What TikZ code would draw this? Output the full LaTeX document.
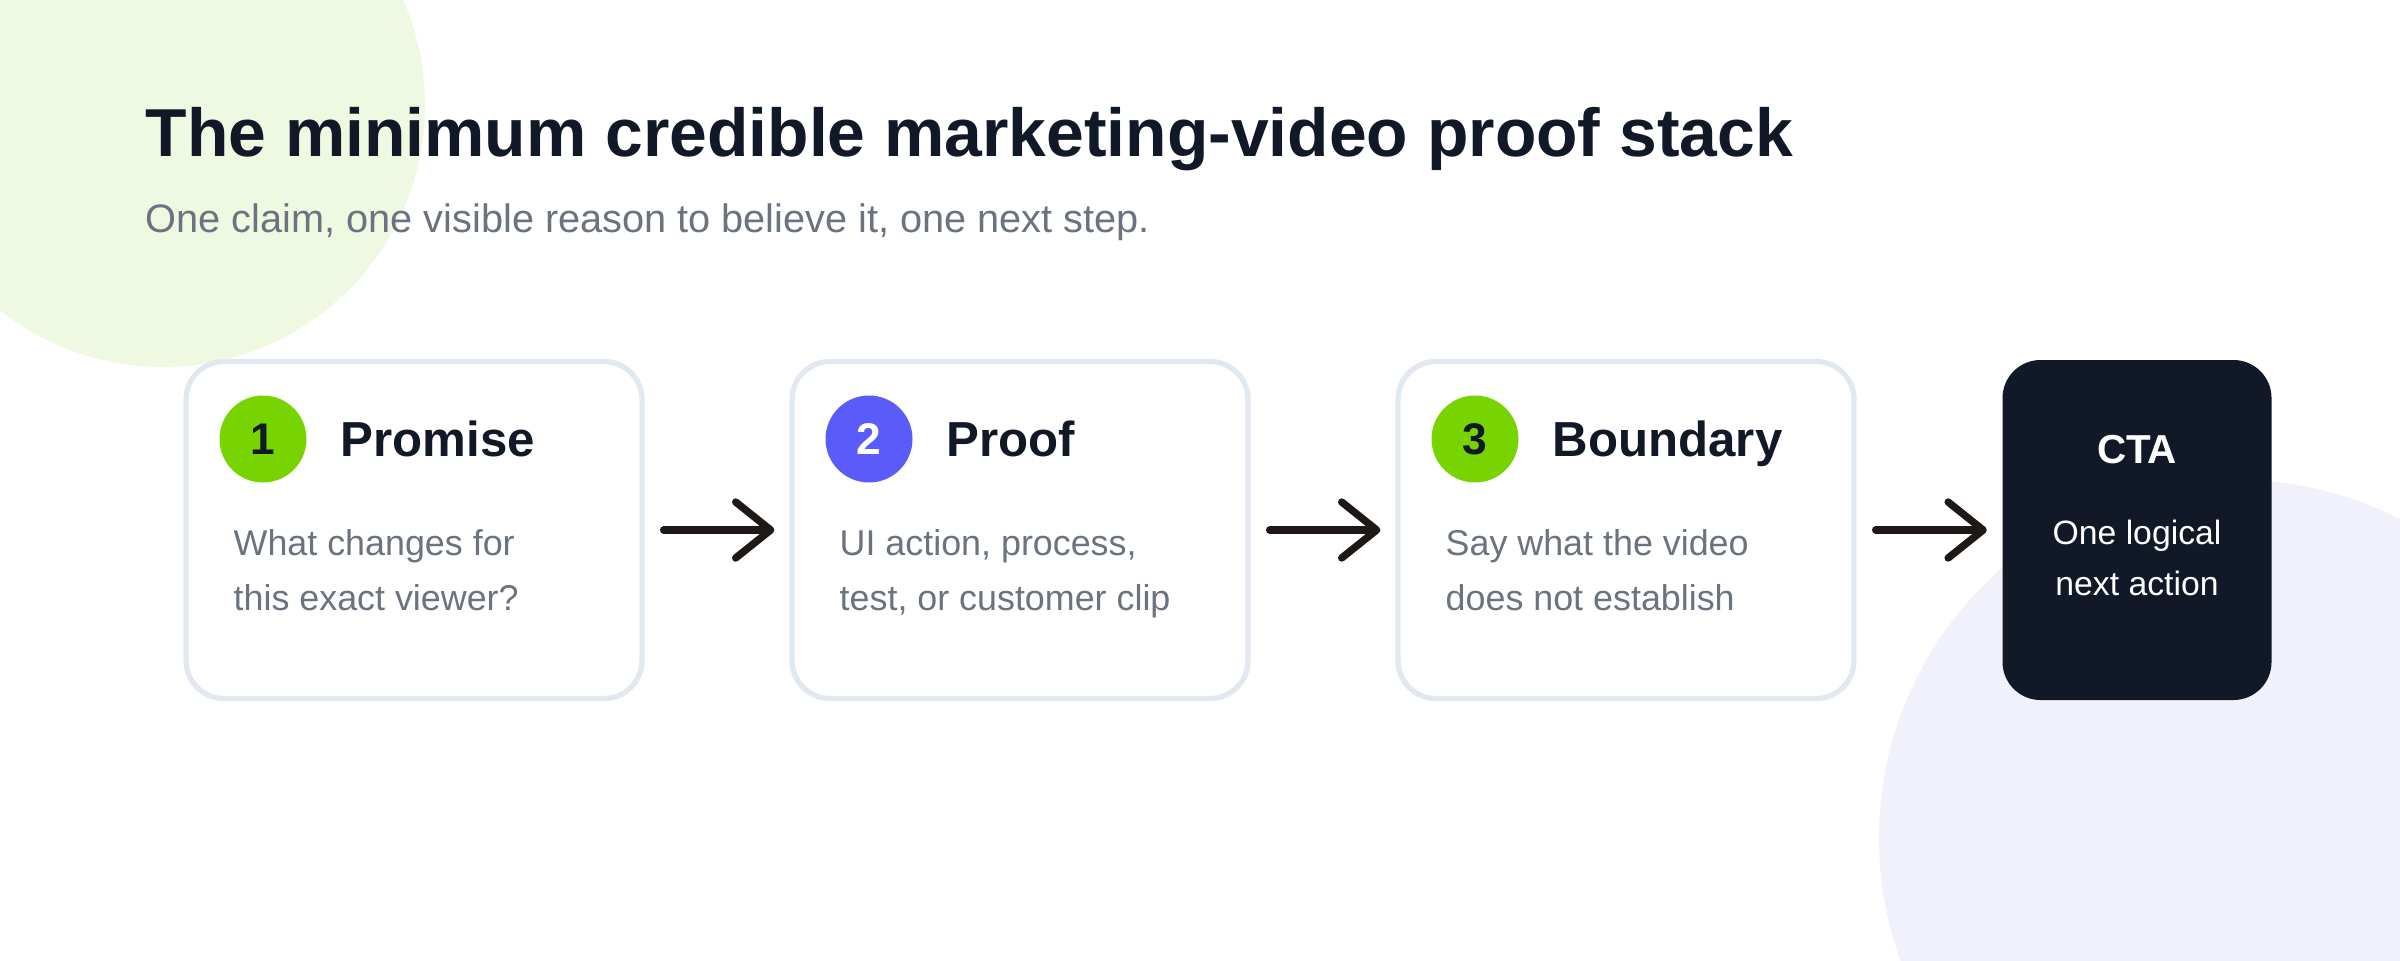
\documentclass[tikz,border=0pt]{standalone}
\usepackage{fontspec}
\setmainfont{Liberation Sans}
\usetikzlibrary{arrows.meta,positioning}

\definecolor{ink}{HTML}{111827}
\definecolor{muted}{HTML}{6B7280}
\definecolor{edge}{HTML}{E2E8F0}
\definecolor{lime}{HTML}{78D400}
\definecolor{indigo}{HTML}{5A5CFA}
\definecolor{mint}{HTML}{EFF9E1}
\definecolor{lilac}{HTML}{F1F1FC}
\definecolor{arrowink}{HTML}{1E1817}

\begin{document}
\begin{tikzpicture}[
	card/.style={draw=edge, line width=1.5pt, fill=white, rounded corners=0.38cm,
		minimum width=4.56cm, minimum height=3.37cm},
	cta/.style={fill=ink, rounded corners=0.38cm, minimum width=2.69cm, minimum height=3.40cm},
	badge/.style={circle, minimum size=0.87cm, inner sep=0pt,
		font=\fontsize{12.6}{14}\selectfont\bfseries},
	heading/.style={anchor=base west, inner sep=0pt, text=ink,
		font=\fontsize{14}{17}\selectfont\bfseries},
	body/.style={anchor=base west, inner sep=0pt, align=left, text=muted,
		font=\fontsize{10.2}{15.6}\selectfont},
	flow/.style={line width=2.1pt, draw=arrowink, line cap=round, shorten <=0.19cm, shorten >=0.15cm,
		-{Straight Barb[length=3.5mm, width=5.6mm, line join=round, line cap=round]}}
]
	% Frame and background blobs
	\useasboundingbox (0, 0) rectangle (24, 9.6);
	\fill[white] (0, 0) rectangle (24, 9.6);
	\begin{scope}
		\clip (0, 0) rectangle (24, 9.6);
		\fill[mint] (1.63, 8.55) circle (2.62);
		\fill[lilac] (22.37, 1.22) circle (3.58);
	\end{scope}

	% Title
	\node[anchor=base west, inner sep=0pt, text=ink, font=\fontsize{19.3}{23}\selectfont\bfseries]
		(title) at (1.45, 8.04) {The minimum credible marketing-video proof stack};
	\node[anchor=base west, inner sep=0pt, text=muted, font=\fontsize{11.3}{14}\selectfont]
		(subtitle) at (1.45, 7.28) {One claim, one visible reason to believe it, one next step.};

	% Cards
	\node[card] (promise) at (4.14, 4.30) {};
	\node[card] (proof) at (10.20, 4.30) {};
	\node[card] (boundary) at (16.26, 4.30) {};
	\node[cta] (cta) at (21.37, 4.30) {};

	% Badges
	\node[badge, fill=lime, text=ink] (n1) at (2.63, 5.21) {1};
	\node[badge, fill=indigo, text=white] (n2) at (8.69, 5.21) {2};
	\node[badge, fill=lime, text=ink] (n3) at (14.75, 5.21) {3};

	% Headings and texts (base = last line)
	\node[heading] (h1) at (3.40, 5.04) {Promise};
	\node[heading] (h2) at (9.46, 5.04) {Proof};
	\node[heading] (h3) at (15.52, 5.04) {Boundary};

	\node[body] (t1) at (2.33, 3.50) {What changes for\\this exact viewer?};
	\node[body] (t2) at (8.39, 3.50) {UI action, process,\\test, or customer clip};
	\node[body] (t3) at (14.45, 3.50) {Say what the video\\does not establish};

	\node[anchor=base, inner sep=0pt, text=white, font=\fontsize{11.5}{14}\selectfont\bfseries]
		(ctatitle) at (21.37, 4.97) {CTA};
	\node[anchor=base, inner sep=0pt, align=center, text=white, font=\fontsize{9.6}{14.5}\selectfont]
		(ctatext) at (21.37, 3.65) {One logical\\next action};

	% Arrows
	\draw[flow] (promise) -- (proof);
	\draw[flow] (proof) -- (boundary);
	\draw[flow] (boundary) -- (cta);
\end{tikzpicture}
\end{document}
